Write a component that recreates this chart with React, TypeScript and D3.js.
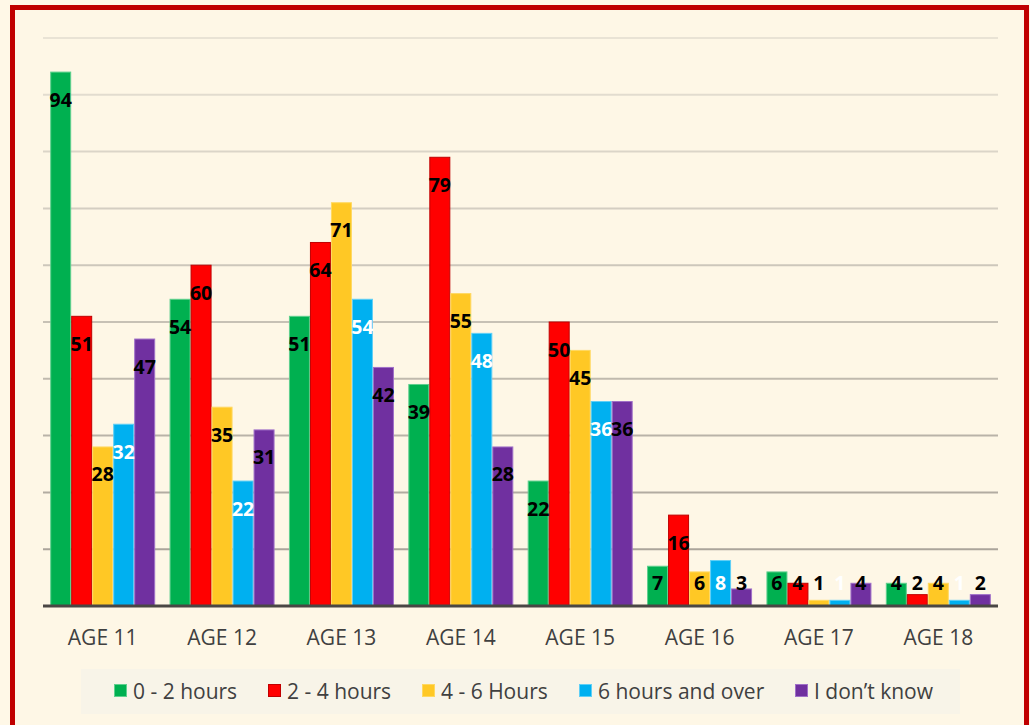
import React from "react";
import * as d3 from "d3";

const categories = ["AGE 11", "AGE 12", "AGE 13", "AGE 14", "AGE 15", "AGE 16", "AGE 17", "AGE 18"];
const seriesNames = ["0 - 2 hours", "2 - 4 hours", "4 - 6 Hours", "6 hours and over", "I don\u2019t know"];
const hours0to2 = [94, 54, 51, 39, 22, 7, 6, 4];
const hours2to4 = [51, 60, 64, 79, 50, 16, 4, 2];
const hours4to6 = [28, 35, 71, 55, 45, 6, 1, 4];
const hours6plus = [32, 22, 54, 48, 36, 8, 1, 1];
const dontKnow = [47, 31, 42, 28, 36, 3, 4, 2];
const yTicks = [0, 10, 20, 30, 40, 50, 60, 70, 80, 90, 100];

const seriesValues = [hours0to2, hours2to4, hours4to6, hours6plus, dontKnow];
const fills = ["#00B050", "#FF0000", "#FFC825", "#00B0F0", "#7030A0"];
const strokes = ["#5FD08E", "#C00000", "#FFD860", "#5FCFF6", "#A070C8"];
const labelColors = ["#000", "#000", "#000", "#fff", "#000"];
const legendX = [114, 268, 422, 579, 795];

export default function App() {
  const W = 1030, H = 725;
  const left = 43, right = 998, top = 38, bottom = 606;
  const x0 = d3.scaleBand<string>().domain(categories).range([left, right]).paddingInner(0).paddingOuter(0);
  const groupW = 105;
  const x1 = d3.scaleBand<number>().domain(d3.range(seriesNames.length)).range([0, groupW]);
  const y = d3.scaleLinear().domain([0, 100]).range([bottom, top]);
  const gridColor = d3.interpolateRgb("#E9E3D5", "#ABA59B");
  const font = "'Open Sans', 'Liberation Sans', sans-serif";

  return (
    <svg width={W} height={H} style={{ position: "absolute", left: 0, top: 0, display: "block" }}>
      <rect x={0} y={0} width={W} height={H} fill="#FFF8E7" />
      <rect x={12.5} y={7.5} width={1014} height={740} fill="#FEF7E6" stroke="#C00000" strokeWidth={5} />
      {yTicks.slice(1).map((t, i) => (
        <line key={t} x1={left} x2={right} y1={y(t)} y2={y(t)} stroke={gridColor(1 - i / (yTicks.length - 2))} strokeWidth={2} />
      ))}
      {categories.map((c, ci) => {
        const gx = (x0(c) as number) + (x0.bandwidth() - groupW) / 2;
        return (
          <g key={c}>
            {seriesValues.map((vals, si) => {
              const v = vals[ci];
              const bx = gx + (x1(si) as number);
              const bw = x1.bandwidth();
              return (
                <rect key={si} x={bx + 0.5} y={y(v)} width={bw - 1} height={bottom - y(v)} fill={fills[si]} stroke={strokes[si]} strokeWidth={1} />
              );
            })}
          </g>
        );
      })}
      <line x1={left} x2={right} y1={bottom} y2={bottom} stroke="#4A4744" strokeWidth={3} />
      {categories.map((c, ci) => {
        const gx = (x0(c) as number) + (x0.bandwidth() - groupW) / 2;
        return (
          <g key={c + "l"}>
            {seriesValues.map((vals, si) => {
              const v = vals[ci];
              const cx = gx + (x1(si) as number) + x1.bandwidth() / 2;
              const cy = Math.min(y(v) + 27, bottom - 24);
              return (
                <text key={si} x={cx} y={cy} textAnchor="middle" dominantBaseline="central" fontFamily={font} fontWeight="bold" fontSize={19.5} fill={labelColors[si]}>
                  {v}
                </text>
              );
            })}
            <text x={(x0(c) as number) + x0.bandwidth() / 2} y={637} textAnchor="middle" dominantBaseline="central" fontFamily={font} fontSize={21} fill="#404040">
              {c}
            </text>
          </g>
        );
      })}
      <rect x={81} y={669} width={879} height={45} fill="#F8F4E8" />
      {seriesNames.map((n, si) => (
        <g key={n}>
          <rect x={legendX[si] + 0.5} y={684.5} width={12} height={12} fill={fills[si]} stroke={strokes[si]} strokeWidth={1} />
          <text x={legendX[si] + 19} y={691} dominantBaseline="central" fontFamily={font} fontSize={21} fill="#404040">
            {n}
          </text>
        </g>
      ))}
    </svg>
  );
}
